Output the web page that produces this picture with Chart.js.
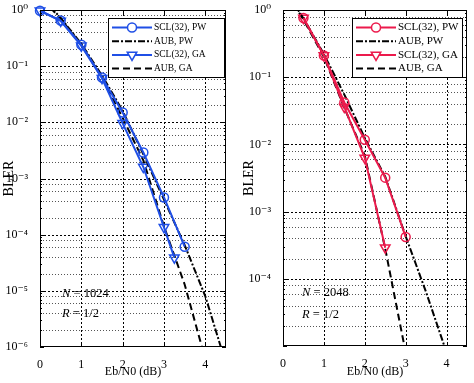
<!DOCTYPE html>
<html>
<head>
<meta charset="utf-8">
<script src="https://cdn.jsdelivr.net/npm/chart.js@4.4.1/dist/chart.umd.min.js"></script>
<style>
  body { margin: 0; background: #fff; }
  canvas { position: absolute; top: 0; }
  #left { left: 0; }
  #right { left: 237px; }
</style>
</head>
<body>
<canvas id="left" width="237" height="383"></canvas>
<canvas id="right" width="237" height="383"></canvas>
<script>
// Eb/N0 (dB) positions and BLER values
const snrTicks = [0, 1, 2, 3, 4];
const seriesNames = ['SCL(32), PW', 'AUB, PW', 'SCL(32), GA', 'AUB, GA'];

// left panel, N = 1024
const sclPwSnrA = [0, 0.5, 1, 1.5, 2, 2.5, 3, 3.5];
const sclPwA = [0.97, 0.65, 0.24, 0.063, 0.015, 0.0029, 4.6e-4, 6.1e-5];
const sclGaSnrA = [0, 0.5, 1, 1.5, 2, 2.5, 3, 3.25];
const sclGaA = [0.97, 0.64, 0.23, 0.061, 0.0096, 0.0016, 1.35e-4, 3.9e-5];
const aubSnrA = [0.25, 0.5, 1, 1.5, 2, 2.5, 3, 3.5, 4, 4.5];
const aubPwA = [1.15, 0.72, 0.25, 0.068, 0.016, 0.0027, 4.2e-4, 6.5e-5, 8e-6, 5e-7];
const aubGaA = [1.1, 0.7, 0.24, 0.062, 0.012, 0.0021, 1.4e-4, 1.3e-5, 6e-7, 2e-8];
const yLabelsA = [0, -1, -2, -3, -4, -5, -6];

// right panel, N = 2048
const sclPwSnrB = [0.5, 1, 1.5, 2, 2.5, 3];
const sclPwB = [0.76, 0.21, 0.042, 0.0117, 0.0032, 4.2e-4];
const sclGaSnrB = [0.5, 1, 1.5, 2, 2.5];
const sclGaB = [0.76, 0.21, 0.036, 0.0063, 2.9e-4];
const aubPwSnrB = [0.25, 0.5, 1, 1.5, 2, 2.5, 3, 3.5, 4, 4.5];
const aubPwB = [1.3, 0.75, 0.22, 0.055, 0.0125, 0.0033, 4.3e-4, 6.3e-5, 8e-6, 1e-6];
const aubGaSnrB = [0.25, 0.5, 1, 1.5, 2, 2.5, 3, 3.5];
const aubGaB = [1.25, 0.72, 0.2, 0.035, 0.0068, 2.8e-4, 8e-6, 2e-7];
const yLabelsB = [0, -1, -2, -3, -4];

const minorSteps = [2, 4, 6, 8];

const SERIF = '"Liberation Serif", "DejaVu Serif", serif';
const SUP = {'-': '\u207B', '0': '\u2070', '1': '\u00B9', '2': '\u00B2', '3': '\u00B3',
  '4': '\u2074', '5': '\u2075', '6': '\u2076', '7': '\u2077', '8': '\u2078', '9': '\u2079'};
const decadeLabel = e => '10' + String(e).split('').map(c => SUP[c]).join('');
const pts = (xs, ys) => xs.map((x, i) => ({x: x, y: ys[i]}));

function hline(ctx, a, py) {
  ctx.beginPath();
  ctx.moveTo(a.left, py); ctx.lineTo(a.right, py);
  ctx.stroke();
}

// dotted grid, frame, inner ticks, boxed legend and the N/R note
const decor = {
  id: 'decor',
  beforeDatasetsDraw(chart) {
    const ctx = chart.ctx, a = chart.chartArea;
    const x = chart.scales.x, y = chart.scales.y;
    ctx.save();
    ctx.lineWidth = 1;
    const lo = Math.round(Math.log10(y.min));
    // minor rows
    ctx.strokeStyle = '#555';
    ctx.setLineDash([1, 2]);
    for (let e = lo; e < 0; e++) {
      minorSteps.forEach(m => hline(ctx, a, Math.round(y.getPixelForValue(m * Math.pow(10, e))) + 0.5));
    }
    // decade rows and dB columns
    ctx.strokeStyle = '#000';
    ctx.setLineDash([2, 2]);
    for (let e = lo + 1; e < 0; e++) hline(ctx, a, Math.round(y.getPixelForValue(Math.pow(10, e))) + 0.5);
    snrTicks.forEach(v => {
      if (v === 0) return;
      const px = Math.round(x.getPixelForValue(v)) + 0.5;
      ctx.beginPath();
      ctx.moveTo(px, a.top); ctx.lineTo(px, a.bottom);
      ctx.stroke();
    });
    ctx.restore();
  },
  afterDraw(chart, args, o) {
    const ctx = chart.ctx, a = chart.chartArea;
    const x = chart.scales.x, y = chart.scales.y;
    ctx.save();
    ctx.strokeStyle = '#000';
    ctx.lineWidth = 1;
    ctx.setLineDash([]);
    ctx.beginPath();
    snrTicks.forEach(v => {
      const px = Math.round(x.getPixelForValue(v)) + 0.5;
      ctx.moveTo(px, a.bottom); ctx.lineTo(px, a.bottom - 4);
      ctx.moveTo(px, a.top); ctx.lineTo(px, a.top + 4);
    });
    for (let e = Math.round(Math.log10(y.min)); e <= 0; e++) {
      for (let m = 1; m < 10; m++) {
        const v = m * Math.pow(10, e);
        if (v > 1.0001) break;
        const py = Math.round(y.getPixelForValue(v)) + 0.5;
        const len = m === 1 ? 4 : 2;
        ctx.moveTo(a.left, py); ctx.lineTo(a.left + len, py);
        ctx.moveTo(a.right, py); ctx.lineTo(a.right - len, py);
      }
    }
    ctx.stroke();
    ctx.strokeRect(a.left + 0.5, a.top + 0.5, a.width - 1, a.height - 1);

    // legend
    const L = o.legend;
    ctx.fillStyle = '#fff';
    ctx.fillRect(L.x, L.y, L.w, L.h);
    ctx.strokeStyle = '#000';
    ctx.lineWidth = 1;
    ctx.strokeRect(L.x + 0.5, L.y + 0.5, L.w, L.h);
    ctx.font = L.size + 'px ' + SERIF;
    ctx.textBaseline = 'middle';
    chart.data.datasets.forEach((ds, i) => {
      const cy = L.y + 9.5 + i * 13.7;
      ctx.strokeStyle = ds.borderColor;
      ctx.lineWidth = ds.borderWidth;
      ctx.setLineDash(ds.borderDash || []);
      ctx.beginPath();
      ctx.moveTo(L.x + 4, cy); ctx.lineTo(L.x + 44, cy);
      ctx.stroke();
      ctx.setLineDash([]);
      if (ds.pointRadius > 0) {
        const cx = L.x + 24, r = ds.pointRadius;
        ctx.lineWidth = ds.pointBorderWidth;
        ctx.fillStyle = '#fff';
        ctx.beginPath();
        if (ds.pointStyle === 'circle') {
          ctx.arc(cx, cy, r, 0, Math.PI * 2);
        } else {
          ctx.moveTo(cx, cy + r);
          ctx.lineTo(cx - r * 0.866, cy - r / 2);
          ctx.lineTo(cx + r * 0.866, cy - r / 2);
          ctx.closePath();
        }
        ctx.fill();
        ctx.stroke();
      }
      ctx.fillStyle = '#000';
      ctx.fillText(ds.label, L.x + 46, cy);
    });

    // N / R note
    ctx.fillStyle = '#000';
    o.notes.forEach(n => {
      ctx.font = 'italic ' + o.noteSize + 'px ' + SERIF;
      ctx.fillText(n.sym, n.x, n.y);
      const w = ctx.measureText(n.sym).width;
      ctx.font = o.noteSize + 'px ' + SERIF;
      ctx.fillText(n.rest, n.x + w, n.y);
    });
    ctx.restore();
  }
};

function makePanel(id, p) {
  const yTicks = [];
  for (let e = Math.round(Math.log10(p.yMin)); e <= 0; e++) yTicks.push({value: Math.pow(10, e)});
  const tickFont = {family: SERIF, size: 12};
  return new Chart(document.getElementById(id), {
    type: 'line',
    data: {
      datasets: [
        {label: seriesNames[0], data: pts(p.sclPwSnr, p.sclPw), borderColor: p.color,
          borderWidth: 2, pointStyle: 'circle', pointRadius: 4.5, pointBorderWidth: 1.5,
          pointBackgroundColor: 'rgba(0,0,0,0)', pointBorderColor: p.color, clip: false},
        {label: seriesNames[1], data: pts(p.aubPwSnr, p.aubPw), borderColor: '#000',
          borderWidth: 2, borderDash: [7, 2, 2, 2], pointRadius: 0},
        {label: seriesNames[2], data: pts(p.sclGaSnr, p.sclGa), borderColor: p.color,
          borderWidth: 2, pointStyle: 'triangle', pointRotation: 180, pointRadius: 5.5,
          pointBorderWidth: 1.5, pointBackgroundColor: 'rgba(0,0,0,0)',
          pointBorderColor: p.color, clip: false},
        {label: seriesNames[3], data: pts(p.aubGaSnr, p.aubGa), borderColor: '#000',
          borderWidth: 2, borderDash: [7, 4], pointRadius: 0}
      ]
    },
    options: {
      responsive: false,
      animation: false,
      devicePixelRatio: 1,
      layout: {padding: {left: 0, right: p.padRight, top: 10, bottom: 0}},
      elements: {line: {tension: 0}},
      scales: {
        x: {
          type: 'linear', min: 0, max: 4.5,
          afterBuildTicks: s => { s.ticks = snrTicks.map(v => ({value: v})); },
          afterFit: s => { s.height = p.xHeight; s.paddingLeft = 0; s.paddingRight = 0; },
          ticks: {autoSkip: false, maxRotation: 0, padding: 3, color: '#000', font: tickFont,
            callback: v => String(v)},
          grid: {display: false},
          border: {display: false},
          title: {display: true, text: 'Eb/N0 (dB)', color: '#000',
            font: {family: SERIF, size: 12}, padding: {top: 0, bottom: 4}}
        },
        y: {
          type: 'logarithmic', min: p.yMin, max: 1,
          afterBuildTicks: s => { s.ticks = yTicks.slice(); },
          afterFit: s => { s.width = p.yWidth; s.paddingTop = 0; s.paddingBottom = 0; },
          ticks: {autoSkip: false, padding: 4, color: '#000', font: tickFont,
            callback: v => {
              const e = Math.round(Math.log10(v));
              return p.yLabels.includes(e) ? decadeLabel(e) : '';
            }},
          grid: {display: false},
          border: {display: false},
          title: {display: true, text: 'BLER', color: '#000',
            font: {family: SERIF, size: 14}, padding: {top: p.titlePad, bottom: 0}}
        }
      },
      plugins: {
        legend: {display: false},
        tooltip: {enabled: false},
        decor: {legend: p.legend, notes: p.notes, noteSize: 12.5}
      }
    },
    plugins: [decor]
  });
}

makePanel('left', {
  color: '#1f4fe6',
  sclPwSnr: sclPwSnrA, sclPw: sclPwA, sclGaSnr: sclGaSnrA, sclGa: sclGaA,
  aubPwSnr: aubSnrA, aubPw: aubPwA, aubGaSnr: aubSnrA, aubGa: aubGaA,
  yMin: 1e-6, yLabels: yLabelsA,
  yWidth: 40, xHeight: 36, padRight: 11, titlePad: 1,
  legend: {x: 108, y: 18, w: 116, h: 59, size: 9.5},
  notes: [{sym: 'N', rest: ' = 1024', x: 62, y: 294}, {sym: 'R', rest: ' = 1/2', x: 62, y: 314}]
});

makePanel('right', {
  color: '#ec1a4c',
  sclPwSnr: sclPwSnrB, sclPw: sclPwB, sclGaSnr: sclGaSnrB, sclGa: sclGaB,
  aubPwSnr: aubPwSnrB, aubPw: aubPwB, aubGaSnr: aubGaSnrB, aubGa: aubGaB,
  yMin: 1e-5, yLabels: yLabelsB,
  yWidth: 46, xHeight: 37, padRight: 4, titlePad: 4,
  legend: {x: 115, y: 18, w: 110, h: 59, size: 11},
  notes: [{sym: 'N', rest: ' = 2048', x: 65, y: 293}, {sym: 'R', rest: ' = 1/2', x: 65, y: 315}]
});
</script>
</body>
</html>
